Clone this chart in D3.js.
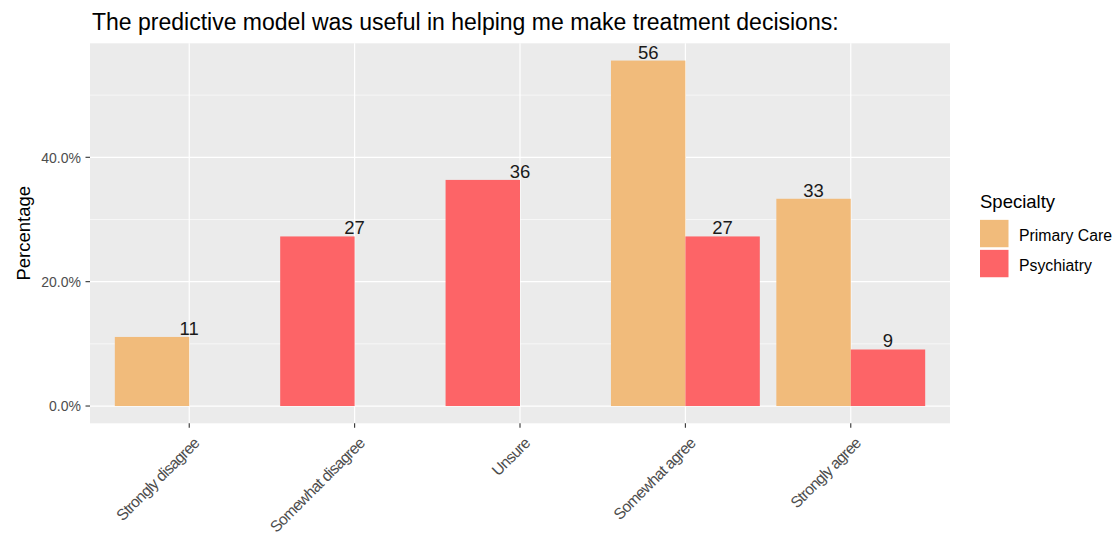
<!DOCTYPE html>
<html><head><meta charset="utf-8">
<script src="https://cdn.jsdelivr.net/npm/d3@7"></script>
<style>body{margin:0;background:#fff;} text{font-family:"Liberation Sans",Arial,sans-serif;}</style>
</head><body><svg id="c" width="1114" height="537"></svg>
<script>
const categories = ["Strongly disagree","Somewhat disagree","Unsure","Somewhat agree","Strongly agree"];
const series = ["Primary Care","Psychiatry"];
const primaryCare = [11.111, 0, 0, 55.556, 33.333];
const psychiatry = [0, 27.273, 36.364, 27.273, 9.091];
const colors = ["#F1BB7B","#FD6467"];
const yTicks = [0, 20, 40];
const yMinor = [10, 30, 50];
const title = "The predictive model was useful in helping me make treatment decisions:";

const values = [primaryCare, psychiatry];
const svg = d3.select("#c");
const P = {l:90, r:950, t:43.3, b:423.3};
const maxV = d3.max(values.flat());
const y = d3.scaleLinear().domain([-0.05*maxV, 1.05*maxV]).range([P.b, P.t]);
// ggplot discrete axis: 0.6 units expansion each side, bars 0.9 wide
const x = d3.scalePoint().domain(categories).range([P.l, P.r]).padding(0.6);
const step = x.step();
const slots = d3.scaleBand().domain([0,1]).range([-0.45*step, 0.45*step]);

svg.append("rect").attr("x",P.l).attr("y",P.t).attr("width",P.r-P.l).attr("height",P.b-P.t).attr("fill","#EBEBEB");
const g = svg.append("g");
yMinor.forEach(v=>g.append("line").attr("x1",P.l).attr("x2",P.r).attr("y1",y(v)).attr("y2",y(v)).attr("stroke","#fff").attr("stroke-width",0.6));
yTicks.forEach(v=>g.append("line").attr("x1",P.l).attr("x2",P.r).attr("y1",y(v)).attr("y2",y(v)).attr("stroke","#fff").attr("stroke-width",1.2));
categories.forEach(c=>g.append("line").attr("x1",x(c)).attr("x2",x(c)).attr("y1",P.t).attr("y2",P.b).attr("stroke","#fff").attr("stroke-width",1.2));

// bars (dodge with preserve="single": lone bars take the first slot; labels dodge normally)
categories.forEach((c,i)=>{
  const present = series.map((s,si)=>values[si][i]>0);
  const n = present.filter(Boolean).length;
  let k = 0;
  series.forEach((s,si)=>{
    const v = values[si][i];
    if(v<=0) return;
    const bx = x(c)+slots(k);
    g.append("rect").attr("x",bx).attr("width",slots.bandwidth())
      .attr("y",y(v)).attr("height",y(0)-y(v)).attr("fill",colors[si]);
    const lx = n===1 ? x(c) : bx+slots.bandwidth()/2;
    g.append("text").attr("x",lx).attr("y",y(v)-2).attr("text-anchor","middle")
      .attr("font-size",18.5).attr("fill","#1a1a1a").text(Math.round(v));
    k++;
  });
});

// y axis
yTicks.forEach(v=>{
  svg.append("line").attr("x1",85.5).attr("x2",P.l).attr("y1",y(v)).attr("y2",y(v)).attr("stroke","#333").attr("stroke-width",1.1);
  svg.append("text").attr("x",81).attr("y",y(v)).attr("dy","0.38em").attr("text-anchor","end")
    .attr("font-size",14).attr("fill","#4D4D4D").text(d3.format(".1f")(v)+"%");
});
// x axis
categories.forEach(c=>{
  svg.append("line").attr("x1",x(c)).attr("x2",x(c)).attr("y1",P.b).attr("y2",P.b+4.5).attr("stroke","#333").attr("stroke-width",1.1);
  svg.append("text").attr("transform",`translate(${x(c)+3},${P.b+13}) rotate(-45)`)
    .attr("text-anchor","end").attr("dy","0.72em").attr("font-size",15.6).attr("letter-spacing","-0.7")
    .attr("fill","#4D4D4D").text(c);
});
// axis title
svg.append("text").attr("transform",`translate(30,${(P.t+P.b)/2}) rotate(-90)`).attr("text-anchor","middle")
  .attr("font-size",18.5).attr("fill","#000").text("Percentage");
// title
svg.append("text").attr("x",92).attr("y",30).attr("font-size",23).attr("fill","#000").text(title);
// legend
svg.append("text").attr("x",980).attr("y",208).attr("font-size",18.5).attr("fill","#000").text("Specialty");
series.forEach((s,si)=>{
  const ky = 219.3 + si*30;
  svg.append("rect").attr("x",979.5).attr("y",ky).attr("width",29.5).attr("height",28.5).attr("fill",colors[si]).attr("stroke","#fff").attr("stroke-width",1);
  svg.append("text").attr("x",1019).attr("y",ky+21.5).attr("font-size",15.8).attr("fill","#000").text(s);
});
</script></body></html>
